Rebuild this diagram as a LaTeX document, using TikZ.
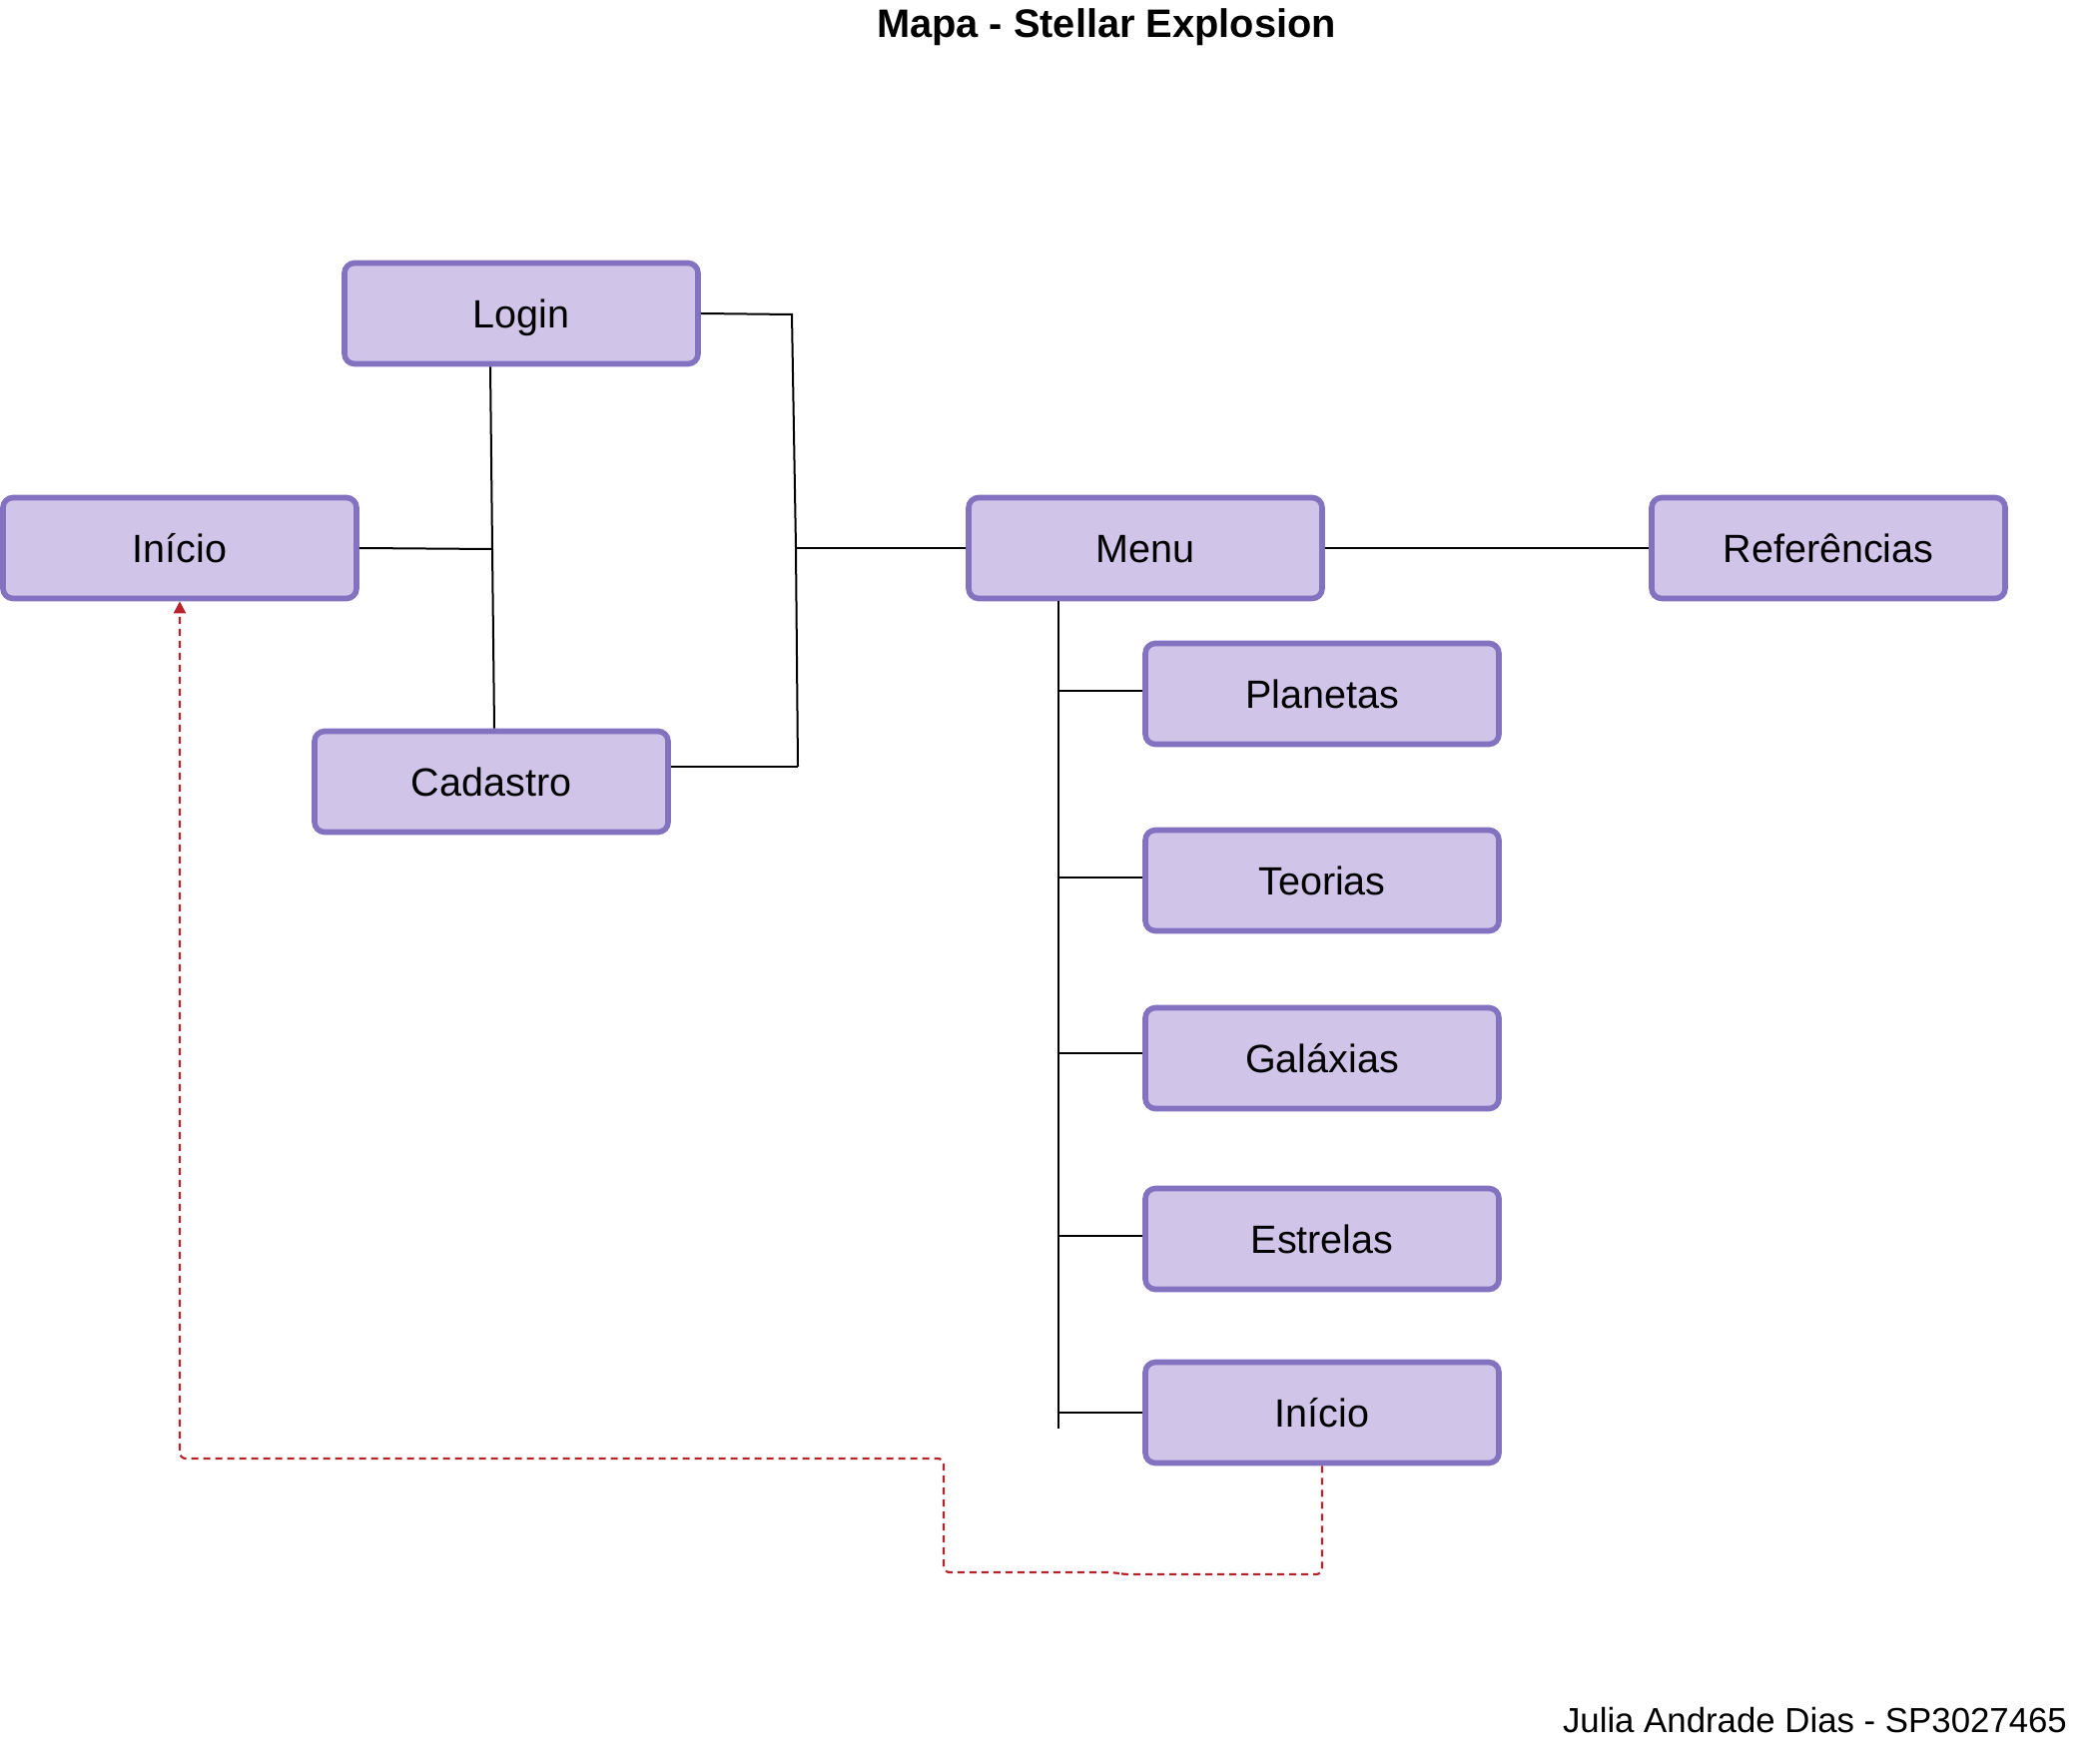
\documentclass[tikz,border=0pt]{standalone}
\usepackage{fontspec}
\setmainfont{Liberation Sans}
\usetikzlibrary{arrows.meta,calc}
\definecolor{boxfill}{HTML}{D0C4E8}
\definecolor{boxline}{HTML}{8272C0}
\definecolor{dashred}{HTML}{B8232B}
\begin{document}
\begin{tikzpicture}[x=0.5pt,y=-0.5pt,
  pagebox/.style={draw=boxline,fill=boxfill,line width=2.8pt,rounded corners=5pt,
    minimum width=177pt,minimum height=50.5pt,inner sep=0pt,
    text height=14.2pt,text depth=0pt,
    font=\fontsize{19.75}{24}\selectfont},
  conn/.style={draw=black,line width=1pt},
  backlink/.style={draw=dashred,line width=1.1pt,dash pattern=on 3.5pt off 2.5pt,rounded corners=3pt}
]
\useasboundingbox (0,0) rectangle (2103,1764);
\node[font=\bfseries\fontsize{19.9}{24}\selectfont] (title) at (1108,27) {Mapa - Stellar Explosion};
\node[anchor=east,font=\fontsize{17.4}{21}\selectfont] (author) at (2077,1723) {Julia Andrade Dias - SP3027465};

\node[pagebox] (login) at (522,314) {Login};
\node[pagebox] (inicio) at (180,549) {Início};
\node[pagebox] (cadastro) at (492,783) {Cadastro};
\node[pagebox] (menu) at (1147,549) {Menu};
\node[pagebox] (ref) at (1831,549) {Referências};
\node[pagebox] (planetas) at (1324,695) {Planetas};
\node[pagebox] (teorias) at (1324,882) {Teorias};
\node[pagebox] (galaxias) at (1324,1060) {Galáxias};
\node[pagebox] (estrelas) at (1324,1241) {Estrelas};
\node[pagebox] (inicio2) at (1324,1415) {Início};

% Login - Cadastro vertical with Início branch
\coordinate (lj) at (493,550);
\draw[conn] ($(login.south)+(-31,0)$) -- (lj) -- ($(cadastro.north)+(3,0)$);
\draw[conn] (inicio.east) -- (lj);

% Login / Cadastro to Menu
\coordinate (rt) at (793,315);
\coordinate (rm) at (797,549);
\coordinate (rb) at (799,768);
\draw[conn] (login.east) -- (rt) -- (rm) -- (rb);
\draw[conn] ($(cadastro.east)+(0,-15)$) -- (rb);
\draw[conn] (rm) -- (menu.west);

% Menu to Referencias
\draw[conn] (menu.east) -- (ref.west);

% Menu bus
\coordinate (busend) at (1060,1431);
\draw[conn] (menu.south -| busend) -- (busend);
\draw[conn] ($(planetas.west)+(0,-3)$) coordinate (pw) -- (pw -| busend);
\draw[conn] ($(teorias.west)+(0,-3)$) coordinate (tw) -- (tw -| busend);
\draw[conn] ($(galaxias.west)+(0,-5)$) coordinate (gw) -- (gw -| busend);
\draw[conn] ($(estrelas.west)+(0,-3)$) coordinate (ew) -- (ew -| busend);
\draw[conn] (inicio2.west) -- (inicio2.west -| busend);

% dashed back link
\draw[backlink,-{Triangle[width=6pt,length=6pt]}] (inicio2.south) -- (1324,1577) -- (1125,1577) -- (1115,1575) -- (945,1575) -- (945,1461) -- (180,1461) -- (inicio.south);
\end{tikzpicture}
\end{document}
